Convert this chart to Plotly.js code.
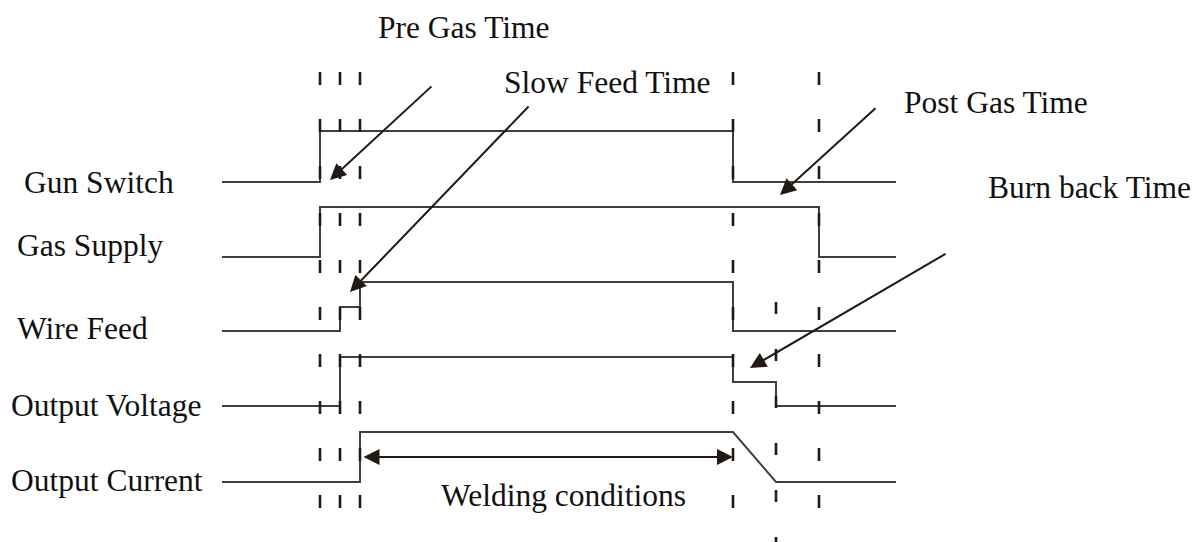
<!DOCTYPE html>
<html><head><meta charset="utf-8">
<script src="https://cdn.plot.ly/plotly-3.0.1.min.js"></script>
<style>html,body{margin:0;padding:0;background:#fff}#chart{width:1195px;height:542px}</style>
</head><body><div id="chart"></div>
<script>
// Signal names
const signalNames = ['Gun Switch', 'Gas Supply', 'Wire Feed', 'Output Voltage', 'Output Current'];
// Step traces (time, level)
const gunT = [222, 320, 320, 733, 733, 896];
const gunV = [182, 182, 131, 131, 182, 182];
const gasT = [222, 320, 320, 819, 819, 896];
const gasV = [257, 257, 207, 207, 257, 257];
const wireT = [222, 340, 340, 360, 360, 733, 733, 896];
const wireV = [331, 331, 307, 307, 282, 282, 331, 331];
const voltT = [222, 340, 340, 733, 733, 776, 776, 896];
const voltV = [406, 406, 357, 357, 382, 382, 406, 406];
const currT = [222, 360, 360, 733, 776, 896];
const currV = [482, 482, 432, 432, 482, 482];
// Event marker times (dashed verticals)
const eventTimes = [320, 340, 360, 733, 819];
const eventSpan = [72, 510];
const burnEventTime = [776];
const burnEventSpan = [302, 542];
// Callout labels
const calloutText = ['Pre Gas Time', 'Slow Feed Time', 'Post Gas Time', 'Burn back Time'];
const calloutTail = [[433, 85], [530, 105], [877, 107], [947, 253]];
const calloutHead = [[330, 180], [350, 292], [780, 195], [750, 368]];
const weldingLabel = 'Welding conditions';
const weldingSpan = [362, 733];
const weldingLevel = 457;

const lineColor = '#3e3e3e';
const dashColor = '#231815';
const font = '"Liberation Serif", "Times New Roman", serif';
const fs = 31.5;

const traces = [];
const sigs = [[gunT, gunV], [gasT, gasV], [wireT, wireV], [voltT, voltV], [currT, currV]];
sigs.forEach((s, i) => traces.push({x: s[0], y: s[1], mode: 'lines', name: signalNames[i],
  line: {color: lineColor, width: 2}, hoverinfo: 'skip'}));
eventTimes.forEach(t => traces.push({x: [t, t], y: eventSpan, mode: 'lines',
  line: {color: dashColor, width: 2.6, dash: '13px,34px'}, hoverinfo: 'skip'}));
burnEventTime.forEach(t => traces.push({x: [t, t], y: burnEventSpan, mode: 'lines',
  line: {color: dashColor, width: 2.6, dash: '12px,35px'}, hoverinfo: 'skip'}));

const ann = [];
const labelPos = [[22, 192], [15, 255], [15, 338], [9, 415], [9, 490]];
signalNames.forEach((n, i) => ann.push({x: labelPos[i][0], y: labelPos[i][1] - 10, text: n,
  xanchor: 'left', yanchor: 'middle', showarrow: false, font: {family: font, size: fs, color: '#111'}}));
const calloutPos = [[376, 37], [502, 92], [902, 112], [986, 197]];
calloutText.forEach((n, i) => ann.push({x: calloutPos[i][0], y: calloutPos[i][1] - 10, text: n,
  xanchor: 'left', yanchor: 'middle', showarrow: false, font: {family: font, size: fs, color: '#111'}}));
ann.push({x: 439, y: 505 - 10, text: weldingLabel, xanchor: 'left', yanchor: 'middle', showarrow: false,
  font: {family: font, size: fs, color: '#111'}});
calloutTail.forEach((tl, i) => ann.push({x: calloutHead[i][0], y: calloutHead[i][1], ax: tl[0], ay: tl[1],
  axref: 'x', ayref: 'y', xref: 'x', yref: 'y', text: '', showarrow: true, arrowhead: 2, arrowsize: 1.6,
  arrowwidth: 2, arrowcolor: dashColor, standoff: 0}));
ann.push({x: weldingSpan[1], y: weldingLevel, ax: weldingSpan[0], ay: weldingLevel, axref: 'x', ayref: 'y',
  text: '', showarrow: true, arrowhead: 2, startarrowhead: 2, arrowside: 'end+start', arrowsize: 1.6,
  startarrowsize: 1.6, arrowwidth: 2, arrowcolor: dashColor, standoff: 0, startstandoff: 0});

const layout = {
  width: 1195, height: 542, margin: {l: 0, r: 0, t: 0, b: 0},
  paper_bgcolor: '#fff', plot_bgcolor: '#fff', showlegend: false,
  font: {family: font},
  xaxis: {range: [0, 1195], visible: false, fixedrange: true},
  yaxis: {range: [542, 0], visible: false, fixedrange: true},
  annotations: ann
};
Plotly.newPlot('chart', traces, layout, {staticPlot: true, displayModeBar: false});
</script></body></html>
